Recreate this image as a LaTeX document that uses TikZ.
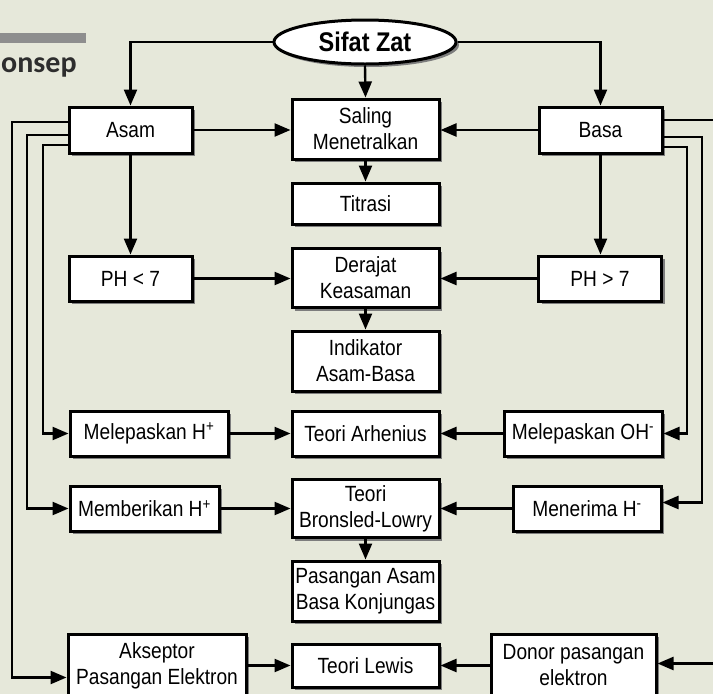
\documentclass[tikz,border=0pt]{standalone}
\usepackage{fontspec}
\setmainfont[FakeStretch=0.87]{Liberation Sans}
\newfontfamily\titlefont{Carlito}
\definecolor{paper}{RGB}{230,232,218}
\definecolor{shade}{RGB}{125,125,125}
\definecolor{bar}{RGB}{142,142,142}
\definecolor{ink}{RGB}{45,45,45}
\usetikzlibrary{arrows.meta,shapes.geometric,shadows}

\begin{document}
\begin{tikzpicture}[x=1pt,y=-1pt,
    box/.style={draw,fill=white,line width=3pt,inner sep=0pt,align=center,
      font=\fontsize{22}{26}\selectfont,
      drop shadow={shadow xshift=3pt,shadow yshift=-3pt,fill=shade,opacity=1}},
    link/.style={line width=2.4pt,-{Triangle[length=16pt,width=13pt]}}]
  \useasboundingbox (0,0) rectangle (713,694);
  \fill[paper] (0,0) rectangle (713,694);
  \clip (0,0) rectangle (713,694);

  \fill[bar] (0,33) rectangle (86,43);
  \node[anchor=base west, inner sep=0pt, text=ink,
        font=\titlefont\bfseries\fontsize{30}{30}\selectfont] (konsep) at (1,72) {onsep};

  \node[ellipse, draw, fill=white, line width=3pt, inner sep=0pt,
        minimum width=182pt, minimum height=44pt,
        font=\bfseries\fontsize{27}{27}\selectfont,
        drop shadow={shadow xshift=3pt,shadow yshift=-3pt,fill=shade,opacity=1}] (sifat) at (365,42) {Sifat Zat};

  \node[box, minimum width=123pt, minimum height=46pt] (asam) at (130.5,130) {Asam};
  \node[box, minimum width=147pt, minimum height=60pt] (saling) at (365.5,129) {Saling\\Menetralkan};
  \node[box, minimum width=123pt, minimum height=46pt] (basa) at (600.5,130) {Basa};
  \node[box, minimum width=147pt, minimum height=41pt] (titrasi) at (365.5,203.5) {Titrasi};

  \node[box, minimum width=123pt, minimum height=45pt] (phkecil) at (130.5,278.5) {PH < 7};
  \node[box, minimum width=147pt, minimum height=59pt] (derajat) at (365.5,278) {Derajat\\Keasaman};
  \node[box, minimum width=123pt, minimum height=45pt] (phbesar) at (600,278.5) {PH > 7};
  \node[box, minimum width=147pt, minimum height=60pt] (indikator) at (365.5,361) {Indikator\\Asam-Basa};

  \node[box, minimum width=158pt, minimum height=45pt] (lepash) at (149,433.5) {Melepaskan H\textsuperscript{+}};
  \node[box, minimum width=147pt, minimum height=45pt] (arhenius) at (365.5,433.5) {Teori Arhenius};
  \node[box, minimum width=158pt, minimum height=45pt] (lepasoh) at (583,433.5) {Melepaskan OH\textsuperscript{-}};

  \node[box, minimum width=149pt, minimum height=45pt] (berih) at (144.5,508.5) {Memberikan H\textsuperscript{+}};
  \node[box, minimum width=147pt, minimum height=58pt] (bronsled) at (365.5,508.5) {Teori\\Bronsled-Lowry};
  \node[box, minimum width=148pt, minimum height=45pt] (terimah) at (587,508.5) {Menerima H\textsuperscript{-}};
  \node[box, minimum width=147pt, minimum height=60pt] (konjugasi) at (365.5,591) {Pasangan Asam\\Basa Konjungas};

  \node[box, minimum width=178pt, minimum height=63pt] (akseptor) at (157,665.5) {Akseptor\\Pasangan Elektron};
  \node[box, minimum width=147pt, minimum height=43pt] (lewis) at (365.5,665.5) {Teori Lewis};
  \node[box, minimum width=165pt, minimum height=63pt] (donor) at (573.5,665.5) {Donor pasangan\\elektron};

  \draw[link] (sifat.west) -| (asam.north);
  \draw[link] (sifat.east) -| (basa.north);
  \draw[link] (sifat.south) -- (saling.north);
  \draw[link] (asam.east) -- (asam.east -| saling.west);
  \draw[link] (basa.west) -- (basa.west -| saling.east);
  \draw[link] (saling.south) -- (titrasi.north);
  \draw[link] (asam.south) -- (asam.south |- phkecil.north);
  \draw[link] (basa.south) -- (basa.south |- phbesar.north);
  \draw[link] (phkecil.east) -- (phkecil.east -| derajat.west);
  \draw[link] (phbesar.west) -- (phbesar.west -| derajat.east);
  \draw[link] (derajat.south) -- (indikator.north);
  \draw[link] (lepash) -- (arhenius);
  \draw[link] (lepasoh) -- (arhenius);
  \draw[link] (berih) -- (bronsled);
  \draw[link] (terimah) -- (bronsled);
  \draw[link] (bronsled.south) -- (konjugasi.north);
  \draw[link] (akseptor) -- (lewis);
  \draw[link] (donor) -- (lewis);

  \draw[link] ([yshift=8pt]asam.west) -- (12,122) |- ([yshift=-12pt]akseptor.west);
  \draw[link] ([yshift=-5pt]asam.west) -- (27,135) |- (berih.west);
  \draw[link] ([yshift=-15pt]asam.west) -- (43,145) |- (lepash.west);
  \draw[link] ([yshift=10pt]basa.east) -- (725,120) |- ([yshift=2pt]donor.east);
  \draw[link] ([yshift=-7pt]basa.east) -- (702,137) |- ([yshift=6pt]terimah.east);
  \draw[link] ([yshift=-17pt]basa.east) -- (687,147) |- (lepasoh.east);
\end{tikzpicture}
\end{document}
